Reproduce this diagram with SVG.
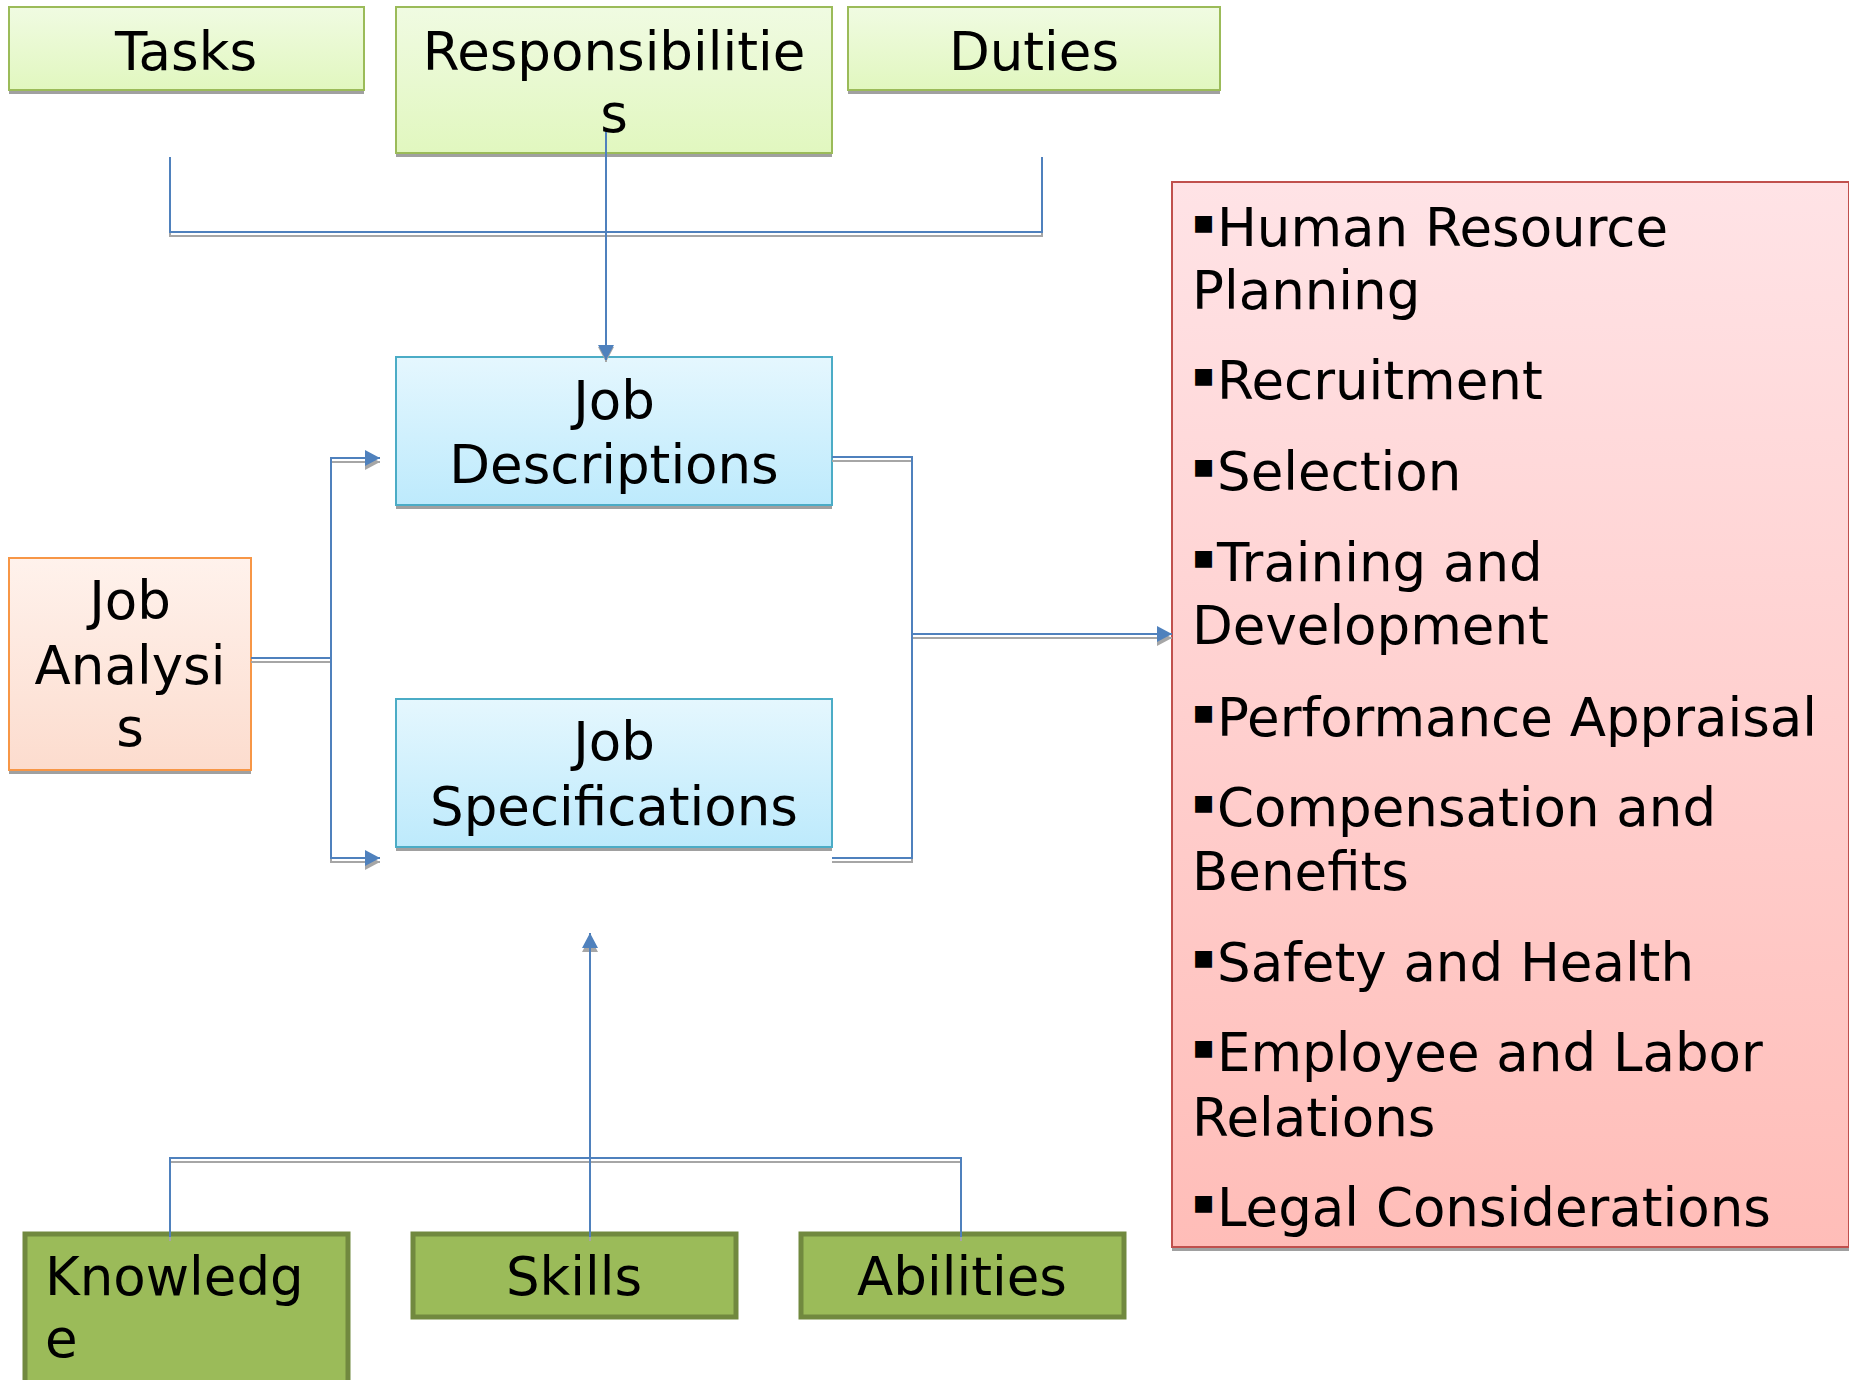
<svg xmlns="http://www.w3.org/2000/svg" width="1849" height="1380" viewBox="0 0 1849 1380">
<style>
.t{font-family:"DejaVu Sans","Liberation Sans",sans-serif;font-size:53px;fill:#000}
.c{text-anchor:middle}
.bul{font-family:"DejaVu Sans","Liberation Sans",sans-serif;font-size:34px;fill:#000}
.sh{fill:#A0A0A0}
.ln{fill:none;stroke:#4F81BD;stroke-width:2}
.lns{fill:none;stroke:#A6A6A6;stroke-width:2}
.green{fill:url(#gGreen);stroke:#9BBB59;stroke-width:2}
.blue{fill:url(#gBlue);stroke:#4BACC6;stroke-width:2}
.orange{fill:url(#gOrange);stroke:#F79646;stroke-width:2}
.red{fill:url(#gRed);stroke:#C0504D;stroke-width:2}
.dgreen{fill:#9BBB59;stroke:#71893F;stroke-width:5}
</style>
<defs>
<linearGradient id="gGreen" x1="0" y1="0" x2="0" y2="1"><stop offset="0" stop-color="#F0FBE2"/><stop offset="1" stop-color="#E1F7BF"/></linearGradient>
<linearGradient id="gBlue" x1="0" y1="0" x2="0" y2="1"><stop offset="0" stop-color="#E5F7FE"/><stop offset="1" stop-color="#BDEAFC"/></linearGradient>
<linearGradient id="gOrange" x1="0" y1="0" x2="0" y2="1"><stop offset="0" stop-color="#FFF2EC"/><stop offset="1" stop-color="#FCDCCE"/></linearGradient>
<linearGradient id="gRed" x1="0" y1="0" x2="0" y2="1"><stop offset="0" stop-color="#FFE3E6"/><stop offset="1" stop-color="#FFBDB8"/></linearGradient>
<marker id="aB" markerUnits="userSpaceOnUse" markerWidth="18" markerHeight="18" refX="16" refY="9" orient="auto"><path d="M1,1 L16,9 L1,17 z" fill="#4F81BD"/></marker>
<marker id="aG" markerUnits="userSpaceOnUse" markerWidth="18" markerHeight="18" refX="16" refY="9" orient="auto"><path d="M1,1 L16,9 L1,17 z" fill="#A6A6A6"/></marker>
</defs>
<rect width="1849" height="1380" fill="#fff"/>

<g id="tasks">
<rect class="sh" x="9" y="11" width="355" height="83"/>
<rect class="green" x="9" y="7" width="355" height="83"/>
<text class="t c" x="186" y="70">Tasks</text>
</g>
<g id="responsibilities">
<rect class="sh" x="396" y="11" width="436" height="146"/>
<rect class="green" x="396" y="7" width="436" height="146"/>
<text class="t c" x="614" y="70">Responsibilitie</text>
<text class="t c" x="614" y="132">s</text>
</g>
<g id="duties">
<rect class="sh" x="848" y="11" width="372" height="83"/>
<rect class="green" x="848" y="7" width="372" height="83"/>
<text class="t c" x="1034" y="70">Duties</text>
</g>

<g id="job-descriptions">
<rect class="sh" x="396" y="361" width="436" height="148"/>
<rect class="blue" x="396" y="357" width="436" height="148"/>
<text class="t c" x="614" y="419">Job</text>
<text class="t c" x="614" y="483">Descriptions</text>
</g>
<g id="job-specifications">
<rect class="sh" x="396" y="703" width="436" height="148"/>
<rect class="blue" x="396" y="699" width="436" height="148"/>
<text class="t c" x="614" y="760">Job</text>
<text class="t c" x="614" y="825">Specifications</text>
</g>
<g id="job-analysis">
<rect class="sh" x="9" y="562" width="242" height="212"/>
<rect class="orange" x="9" y="558" width="242" height="212"/>
<text class="t c" x="130" y="619">Job</text>
<text class="t c" x="130" y="684">Analysi</text>
<text class="t c" x="130" y="746">s</text>
</g>

<g id="hr-functions">
<rect class="sh" x="1172" y="186" width="677" height="1065"/>
<rect class="red" x="1172" y="182" width="677" height="1065"/>
<text class="bul" x="1192" y="233">▪</text>
<text class="t" x="1217" y="246">Human Resource</text>
<text class="t" x="1192" y="309">Planning</text>
<text class="bul" x="1192" y="386">▪</text>
<text class="t" x="1217" y="399">Recruitment</text>
<text class="bul" x="1192" y="477">▪</text>
<text class="t" x="1217" y="490">Selection</text>
<text class="bul" x="1192" y="568">▪</text>
<text class="t" x="1217" y="581">Training and</text>
<text class="t" x="1192" y="644">Development</text>
<text class="bul" x="1192" y="723">▪</text>
<text class="t" x="1217" y="736">Performance Appraisal</text>
<text class="bul" x="1192" y="813">▪</text>
<text class="t" x="1217" y="826">Compensation and</text>
<text class="t" x="1192" y="890">Benefits</text>
<text class="bul" x="1192" y="968">▪</text>
<text class="t" x="1217" y="981">Safety and Health</text>
<text class="bul" x="1192" y="1058">▪</text>
<text class="t" x="1217" y="1071">Employee and Labor</text>
<text class="t" x="1192" y="1136">Relations</text>
<text class="bul" x="1192" y="1213">▪</text>
<text class="t" x="1217" y="1226">Legal Considerations</text>
</g>

<g id="knowledge">
<rect class="dgreen" x="25" y="1234" width="323" height="180"/>
<text class="t" x="45" y="1295">Knowledg</text>
<text class="t" x="45" y="1357">e</text>
</g>
<g id="skills">
<rect class="dgreen" x="413" y="1234" width="323" height="83"/>
<text class="t c" x="574" y="1295">Skills</text>
</g>
<g id="abilities">
<rect class="dgreen" x="801" y="1234" width="323" height="83"/>
<text class="t c" x="962" y="1295">Abilities</text>
</g>

<g id="connectors">
<g transform="translate(0,4)">
<path class="lns" d="M170,157 V232 H1042 V157"/>
<path class="lns" d="M606,132 V358" marker-end="url(#aG)"/>
<path class="lns" d="M251,658 H331 V458 H380" marker-end="url(#aG)"/>
<path class="lns" d="M251,658 H331 V858 H380" marker-end="url(#aG)"/>
<path class="lns" d="M832,457 H912 V634 H1172" marker-end="url(#aG)"/>
<path class="lns" d="M832,858 H912 V634"/>
<path class="lns" d="M170,1237 V1158 H961 V1237"/>
<path class="lns" d="M590,1237 V933" marker-end="url(#aG)"/>
</g>
<path class="ln" d="M170,157 V232 H1042 V157"/>
<path class="ln" d="M606,132 V360" marker-end="url(#aB)"/>
<path class="ln" d="M251,658 H331 V458 H380" marker-end="url(#aB)"/>
<path class="ln" d="M251,658 H331 V858 H380" marker-end="url(#aB)"/>
<path class="ln" d="M832,457 H912 V634 H1172" marker-end="url(#aB)"/>
<path class="ln" d="M832,858 H912 V634"/>
<path class="ln" d="M170,1237 V1158 H961 V1237"/>
<path class="ln" d="M590,1237 V933" marker-end="url(#aB)"/>
</g>
</svg>
